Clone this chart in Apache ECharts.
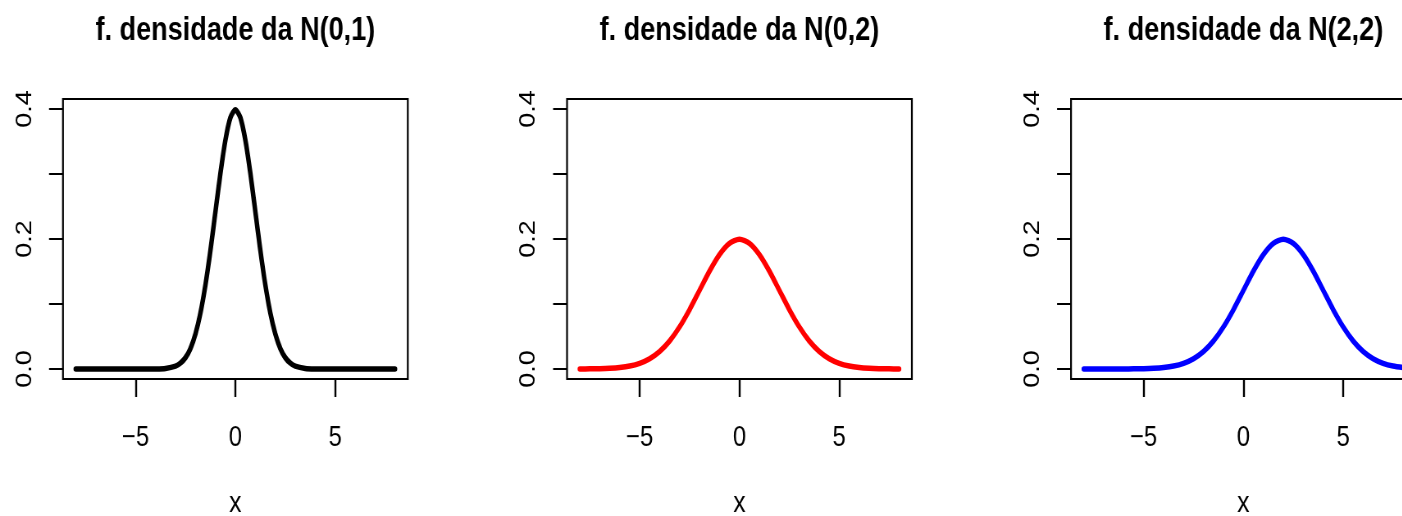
<!DOCTYPE html>
<html>
<head>
<meta charset="utf-8">
<script src="https://cdn.jsdelivr.net/npm/echarts@6/dist/echarts.min.js"></script>
<style>
html,body{margin:0;padding:0;background:#fff;width:1402px;height:516px;overflow:hidden;}
#c{width:1760px;height:516px;transform:scaleX(0.82);transform-origin:0 0;}
</style>
</head>
<body>
<div id="c"></div>
<script>
// ---- data ----
var titles = ['f. densidade da N(0,1)', 'f. densidade da N(0,2)', 'f. densidade da N(2,2)'];
var colors = ['#000000', '#FF0000', '#0000FF'];
var xTicks = [-5, 0, 5];
var yTicks = [0, 0.1, 0.2, 0.3, 0.4];
var yLabels = [0, 0.2, 0.4];

var xs1 = [-8,-7,-6,-5,-4.5,-4,-3.5,-3,-2.75,-2.5,-2.25,-2,-1.75,-1.5,-1.25,-1,-0.75,-0.5,-0.25,0,
           0.25,0.5,0.75,1,1.25,1.5,1.75,2,2.25,2.5,2.75,3,3.5,4,4.5,5,6,7,8];
var ys1 = [0,0,0,0,0,0.0001,0.0009,0.0044,0.0091,0.0175,0.0317,0.0540,0.0863,0.1295,0.1826,0.2420,0.3011,0.3521,0.3867,0.3989,
           0.3867,0.3521,0.3011,0.2420,0.1826,0.1295,0.0863,0.0540,0.0317,0.0175,0.0091,0.0044,0.0009,0.0001,0,0,0,0,0];

var xs2 = [-8,-7.5,-7,-6.5,-6,-5.5,-5,-4.5,-4,-3.5,-3,-2.5,-2,-1.5,-1,-0.5,0,0.5,1,1.5,2,2.5,3,3.5,4,4.5,5,5.5,6,6.5,7,7.5,8];
var ys2 = [0.0001,0.0002,0.0004,0.0010,0.0022,0.0045,0.0088,0.0159,0.0270,0.0431,0.0648,0.0913,0.1210,0.1506,0.1760,0.1933,0.1995,
           0.1933,0.1760,0.1506,0.1210,0.0913,0.0648,0.0431,0.0270,0.0159,0.0088,0.0045,0.0022,0.0010,0.0004,0.0002,0.0001];

var xs3 = xs2;
var ys3 = [0,0,0,0,0.0001,0.0002,0.0004,0.0010,0.0022,0.0045,0.0088,0.0159,0.0270,0.0431,0.0648,0.0913,0.1210,0.1506,0.1760,0.1933,0.1995,
           0.1933,0.1760,0.1506,0.1210,0.0913,0.0648,0.0431,0.0270,0.0159,0.0088,0.0045,0.0022];

var seriesX = [xs1, xs2, xs3];
var seriesY = [ys1, ys2, ys3];

// ---- layout (logical px; the page is condensed horizontally by 0.82) ----
var gridLefts = [76.8, 691.5, 1306.1];
var gridW = 420.5, gridTop = 99, gridH = 280;
var font = "'Liberation Sans', Arial, sans-serif";

function pairs(xs, ys) { return xs.map(function (x, i) { return [x, ys[i]]; }); }

var option = {
  backgroundColor: '#ffffff',
  animation: false,
  title: titles.map(function (t, i) {
    return {
      text: t, left: gridLefts[i] + gridW / 2, top: 14, textAlign: 'center', padding: 0,
      textStyle: { fontFamily: font, fontWeight: 'bold', fontSize: 33, color: '#000' }
    };
  }),
  grid: gridLefts.map(function (l) {
    return { left: l, top: gridTop, width: gridW, height: gridH, show: true, outerBoundsMode: 'none',
             borderColor: '#000', borderWidth: 2.2, backgroundColor: 'transparent', containLabel: false };
  }),
  xAxis: gridLefts.map(function (l, i) {
    return {
      type: 'value', gridIndex: i, min: -8.64, max: 8.64,
      name: 'x', nameLocation: 'middle', nameGap: 110,
      nameTextStyle: { fontFamily: font, fontSize: 30, color: '#000' },
      axisLine: { show: false, onZero: false },
      splitLine: { show: false },
      axisTick: { show: true, length: 18, inside: false, customValues: xTicks, lineStyle: { color: '#000', width: 2.4 } },
      axisLabel: { show: true, customValues: xTicks, margin: 44, fontFamily: font, fontSize: 29, color: '#000',
                   formatter: function (v) { return String(v).replace('-', '\u2212'); } }
    };
  }),
  yAxis: gridLefts.map(function (l, i) {
    return {
      type: 'value', gridIndex: i, min: -0.01538, max: 0.41538,
      axisLine: { show: false, onZero: false },
      splitLine: { show: false },
      axisTick: { show: true, length: 17, inside: false, customValues: yTicks, lineStyle: { color: '#000', width: 2 } },
      axisLabel: { show: true, customValues: yLabels, rotate: 90, margin: 33, fontFamily: font, fontSize: 27, color: '#000',
                   formatter: function (v) { return v.toFixed(1); } }
    };
  }),
  series: seriesX.map(function (xs, i) {
    return {
      type: 'line', xAxisIndex: i, yAxisIndex: i, data: pairs(xs, seriesY[i]),
      showSymbol: false, symbol: 'none', smooth: 0.25,
      lineStyle: { color: colors[i], width: 5.5, cap: 'round', join: 'round' },
      silent: true
    };
  })
};

var chart = echarts.init(document.getElementById('c'), null, { renderer: 'canvas' });
chart.setOption(option);
</script>
</body>
</html>
